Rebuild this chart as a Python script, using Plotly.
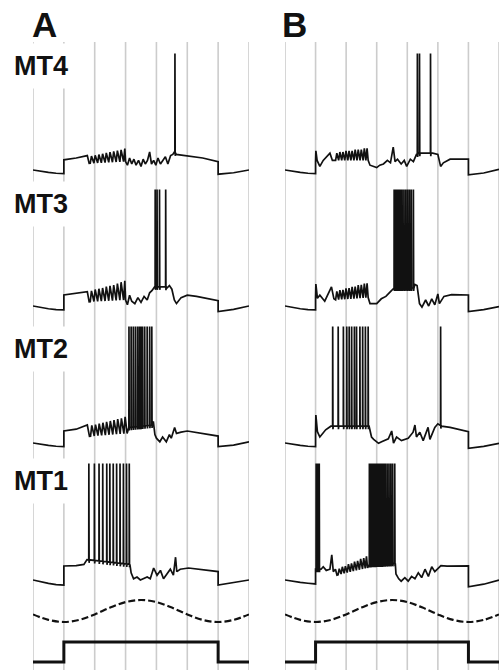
import numpy as np
import plotly.graph_objects as go

# ---------------- data (time in ms, membrane potential in mV) ----------------
GRID_T = [0, 100, 200, 300, 400, 500, 600, 700]
STIM_T = [0, 100, 100, 600, 600, 700]
STIM_V = [0, 0, 1, 1, 0, 0]
MOD_T = [0, 50, 100, 150, 200, 250, 300, 350, 400, 450, 500, 550, 600, 650, 700]
MOD_V = [-0.31, -0.81, -1.0, -0.81, -0.31, 0.31, 0.81, 1.0, 0.81, 0.31, -0.31, -0.81, -1.0, -0.81, -0.31]
SPIKE_PEAK = 32
ROW_LABELS = ["MT4", "MT3", "MT2", "MT1"]

# ---- panel A ----
A_MT4_T = [0,25,50,75,100,100,140,176,182,300,306,313,320,327,334,342,350,357,364,371,378,384,391,398,405,413,421,429,437,446,453,458,464,500,550,600,600,650,700]
A_MT4_V = [-65,-66.2,-67,-67.7,-68,-56.5,-55,-53,-59.5,-58,-61,-55,-60,-56,-61,-57,-62,-56,-60,-57,-50,-60,-57,-61,-55,-60,-57,-54,-60,-53,-52,-50,-52,-53,-55,-58,-68.5,-67.3,-65]
A_MT4_EPSP_T = [188,200,212,224,236,248,260,272,284,296]
A_MT4_EPSP_A = [6,6.5,7,7.5,8,8.5,9,9.5,10,11]
A_MT4_SPK = [460]

A_MT3_T = [0,25,50,75,100,100,140,176,182,300,306,313,320,330,340,350,360,370,378,386,394,398,412,428,434,442,450,458,465,480,500,530,600,600,650,700]
A_MT3_V = [-65,-66.4,-67.3,-68,-68.3,-55.8,-54.5,-53,-61.5,-60,-64,-56,-61,-63,-58,-62,-57,-60,-54,-52,-49,-49,-49,-49,-50,-48,-51,-60,-63,-58,-56,-57,-60.6,-69.7,-67.8,-65]
A_MT3_EPSP_T = [188,200,212,224,236,248,260,272,284,296]
A_MT3_EPSP_A = [9,10,10.5,11,12,12.5,13,14,15,16]
A_MT3_SPK = [396,402,410,430]

A_MT2_T = [0,25,50,75,100,100,140,176,183,305,310,386,390,395,400,411,420,432,442,448,459,465,480,500,600,600,650,700]
A_MT2_V = [-65,-66.2,-67,-67.7,-68,-55,-53.5,-50,-59.5,-57,-52,-50,-47,-58,-61,-64,-60,-64,-58,-61,-52,-57,-56,-55,-59.2,-68,-66.8,-64]
A_MT2_EPSP_T = [189,201,213,225,237,249,261,273,285,297]
A_MT2_EPSP_A = [9,9.5,10,10.5,11,11.5,12,12.5,13,14]
A_MT2_SPK = [311,318,325,332,339,345,350,355,362,370,378,385]

A_MT1_T = [0,25,50,75,100,100,140,165,175,314,318,326,337,348,370,380,391,402,413,423,434,445,455,462,466,477,504,600,600,650,700]
A_MT1_V = [-65,-66.5,-67.8,-68.8,-69.2,-53.3,-53,-52,-48,-52,-59,-64,-62.5,-65,-62.5,-64,-55,-61,-57,-64,-60,-56,-61,-46,-58,-56,-55,-58,-69.2,-67.3,-65]
A_MT1_EPSP_T = []
A_MT1_EPSP_A = []
A_MT1_SPK = [181,199,214,226,239,249,260,271,282,293,303,312]

# ---- panel B ----
B_MT4_T = [0,25,50,75,100,100,101,105,114,125,147,155,162,272,278,290,300,310,322,335,345,354,360,368,380,390,398,410,420,430,437,450,470,483,500,509,518,540,600,600,650,700]
B_MT4_V = [-65,-66.2,-67,-67.7,-68,-58,-49,-57,-62,-57,-51,-57,-57,-57,-61,-62,-63,-61,-60,-57,-59,-46,-58,-56,-60,-57,-62,-56,-58,-52,-51,-51,-51,-51,-52,-62,-59,-56,-56,-69,-67.5,-64.5]
B_MT4_EPSP_T = [168,178,188,198,208,218,228,238,248,258,267]
B_MT4_EPSP_A = [6,7,7,8,8,8,9,9,9,10,10]
B_MT4_SPK = [433,440,476]

B_MT3_T = [0,25,50,75,100,100,101,106,114,130,152,160,163,272,278,300,315,330,345,352,355,420,425,432,440,448,460,470,480,490,500,505,520,545,600,600,650,700]
B_MT3_V = [-65,-66.4,-67.3,-68,-68.3,-58,-46.7,-58.6,-56,-61,-49,-59,-60,-58,-63,-63,-59,-57,-53,-51,-50,-50,-47,-48,-63,-66,-60,-65,-59,-64,-55,-63,-57,-55.5,-55.8,-69.7,-68,-65.5]
B_MT3_EPSP_T = [168,178,188,198,208,218,228,238,248,258,267]
B_MT3_EPSP_A = [7,8,8,9,9,10,10,11,11,12,12]
B_MT3_SPK = [357,361,365,369,373,378,383,389,395,401,407,413,420]

B_MT2_T = [0,25,50,75,100,100,101,106,114,133,150,275,283,290,306,316,338,349,355,365,381,403,419,425,430,441,452,468,474,490,500,512,540,600,600,650,700]
B_MT2_V = [-65,-66.2,-67,-67.7,-68,-56,-41.7,-55.6,-60,-54,-51,-51,-60,-62,-65.3,-64,-61.5,-55,-65,-60,-63,-61,-56,-50,-60,-56,-63,-52,-62,-52,-49,-51,-52,-55.6,-69.4,-67.8,-65.3]
B_MT2_EPSP_T = []
B_MT2_EPSP_A = []
B_MT2_SPK = [156,174,191,202,210,218,227,234,245,254,263,272,509]

B_MT1_T = [0,25,50,75,100,100,118,125,135,147,153,158,165,170,270,274,360,363,372,380,392,403,414,425,436,447,458,469,480,490,510,530,600,600,650,700]
B_MT1_V = [-65,-66.2,-67,-67.7,-68.3,-56,-56,-54,-57,-56,-44,-58,-56,-61,-55,-52,-51,-60,-64,-66,-63,-66,-62,-64,-59,-63,-56,-62,-54,-58,-53,-53.5,-53.3,-70.6,-68.5,-65]
B_MT1_EPSP_T = [176,186,196,206,216,226,236,246,256,265]
B_MT1_EPSP_A = [5,6,6,7,7,8,8,9,9,10]
B_MT1_SPK = [102,107,112,276,280,284,288,292,296,300,304,308,313,318,323,328,334,340,346,352,359]

PANEL_A = [
    (A_MT4_T, A_MT4_V, A_MT4_EPSP_T, A_MT4_EPSP_A, A_MT4_SPK),
    (A_MT3_T, A_MT3_V, A_MT3_EPSP_T, A_MT3_EPSP_A, A_MT3_SPK),
    (A_MT2_T, A_MT2_V, A_MT2_EPSP_T, A_MT2_EPSP_A, A_MT2_SPK),
    (A_MT1_T, A_MT1_V, A_MT1_EPSP_T, A_MT1_EPSP_A, A_MT1_SPK),
]
PANEL_B = [
    (B_MT4_T, B_MT4_V, B_MT4_EPSP_T, B_MT4_EPSP_A, B_MT4_SPK),
    (B_MT3_T, B_MT3_V, B_MT3_EPSP_T, B_MT3_EPSP_A, B_MT3_SPK),
    (B_MT2_T, B_MT2_V, B_MT2_EPSP_T, B_MT2_EPSP_A, B_MT2_SPK),
    (B_MT1_T, B_MT1_V, B_MT1_EPSP_T, B_MT1_EPSP_A, B_MT1_SPK),
]

# ---------------- layout constants ----------------
W, H = 499, 670
PX_PER_MV = 1.2
ROW_BASE_PX = [170, 306, 443, 580]          # pixel row of -65 mV for each row
LABEL_CY = [66.5, 204.5, 348.5, 481]
REF_PX = 170
Y_TOP = -65 + REF_PX / PX_PER_MV
Y_BOT = -65 - (H - REF_PX) / PX_PER_MV
OFFSETS = [-(b - REF_PX) / PX_PER_MV for b in ROW_BASE_PX]


def build(bt, bv, et, ea, spk):
    bt_a = np.array(bt, float)
    bv_a = np.array(bv, float)
    pts = [(t, v) for t, v in zip(bt, bv)]
    for t, a in zip(et, ea):
        b = float(np.interp(t, bt_a, bv_a))
        pts += [(t - 2.5, b), (t + 1.5, b + a)]
    for t in spk:
        b = float(np.interp(t, bt_a, bv_a))
        pts += [(t - 0.3, b), (t, SPIKE_PEAK), (t + 0.8, b - 2.5), (t + 1.8, b)]
    pts.sort(key=lambda p: p[0])
    return [p[0] for p in pts], [p[1] for p in pts]


fig = go.Figure()
for xa, panel in (("x", PANEL_A), ("x2", PANEL_B)):
    for k, tr in enumerate(panel):
        xs, ys = build(*tr)
        fig.add_trace(go.Scatter(x=xs, y=[y + OFFSETS[k] for y in ys], mode="lines",
                                 line=dict(color="#111111", width=1.7),
                                 xaxis=xa, yaxis="y", showlegend=False, hoverinfo="skip"))
    fig.add_trace(go.Scatter(x=MOD_T, y=MOD_V, mode="lines",
                             line=dict(color="#111111", width=2.2, dash="7px,3px", shape="spline"),
                             xaxis=xa, yaxis="y2", showlegend=False, hoverinfo="skip"))
    fig.add_trace(go.Scatter(x=STIM_T, y=STIM_V, mode="lines",
                             line=dict(color="#111111", width=3),
                             xaxis=xa, yaxis="y3", showlegend=False, hoverinfo="skip"))

shapes = []
for xr in ("x", "x2"):
    for t in GRID_T:
        shapes.append(dict(type="line", xref=xr, yref="paper", x0=t, x1=t, y0=0, y1=1 - 42 / H,
                           line=dict(color="#cccccc", width=1.6), layer="below"))

annotations = []
for lab, cy in zip(ROW_LABELS, LABEL_CY):
    annotations.append(dict(text="<b>%s</b>" % lab, xref="paper", yref="paper",
                            x=41 / W, y=1 - cy / H, xanchor="center", yanchor="middle",
                            showarrow=False, bgcolor="white", width=64, height=38, borderpad=3,
                            font=dict(family="Liberation Sans, Arial, sans-serif", size=27, color="#111111")))
for lab, cx in (("A", 44.5), ("B", 294.5)):
    annotations.append(dict(text="<b>%s</b>" % lab, xref="paper", yref="paper",
                            x=cx / W, y=1 - 24.5 / H, xanchor="center", yanchor="middle",
                            showarrow=False,
                            font=dict(family="Liberation Sans, Arial, sans-serif", size=35, color="#111111")))

ax_off = dict(visible=False, showgrid=False, zeroline=False, fixedrange=True)
fig.update_layout(
    width=W, height=H, margin=dict(l=0, r=0, t=0, b=0),
    paper_bgcolor="white", plot_bgcolor="rgba(0,0,0,0)",
    xaxis=dict(domain=[33 / W, 249 / W], range=[0, 700], anchor="y", **ax_off),
    xaxis2=dict(domain=[285 / W, 1.0], range=[0, 700], anchor="y", **ax_off),
    yaxis=dict(domain=[0, 1], range=[Y_BOT, Y_TOP], anchor="x", **ax_off),
    yaxis2=dict(domain=[1 - 625.3 / H, 1 - 596.7 / H], range=[-1.3, 1.3], anchor="x", **ax_off),
    yaxis3=dict(domain=[1 - 668 / H, 1 - 636 / H], range=[-0.3, 1.3], anchor="x", **ax_off),
    shapes=shapes, annotations=annotations,
)
fig.write_html("out.html")
